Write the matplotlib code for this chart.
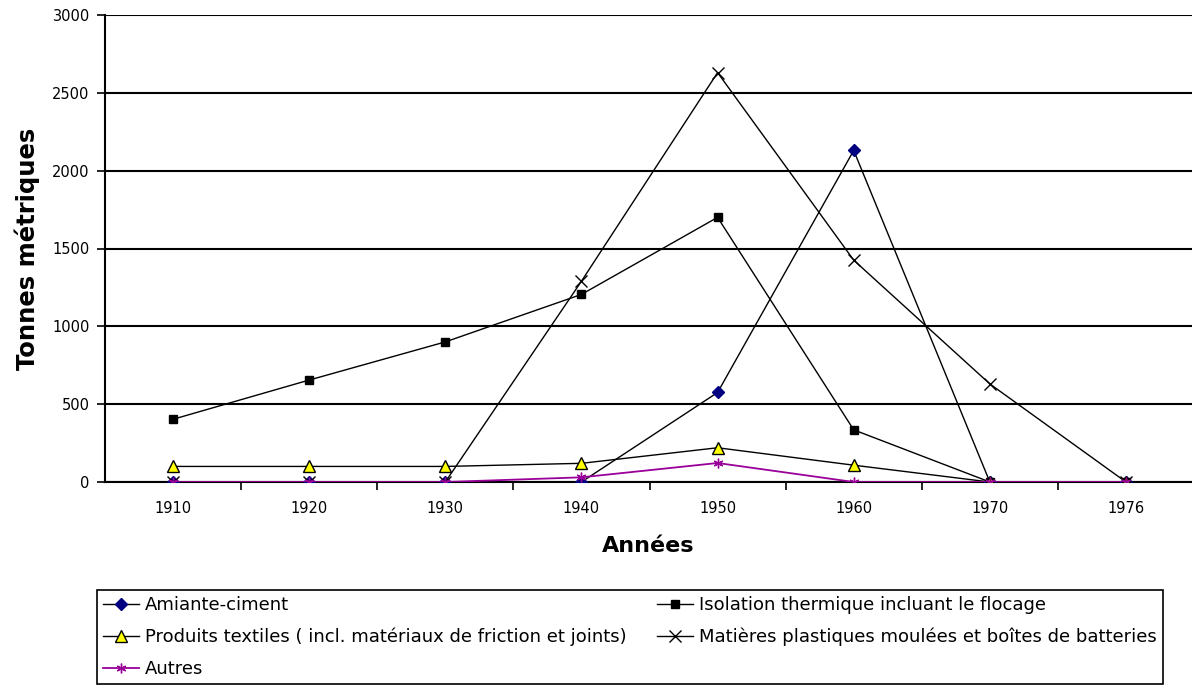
import matplotlib
matplotlib.use("Agg")
import matplotlib.pyplot as plt
import numpy as np

plt.rcParams['font.family'] = ['DejaVu Sans']

years = ["1910", "1920", "1930", "1940", "1950", "1960", "1970", "1976"]
amiante = [0, 0, 0, 0, 575, 2130, 0, 0]
isolation = [403, 655, 900, 1205, 1700, 335, 0, 0]
textiles = [100, 100, 100, 120, 220, 108, 0, 0]
plastiques = [0, 0, 0, 1290, 2630, 1425, 630, 0]
autres = [0, 0, 0, 30, 122, 0, 0, 0]

labels = ["Amiante-ciment",
          "Isolation thermique incluant le flocage",
          "Produits textiles ( incl. matériaux de friction et joints)",
          "Matières plastiques moulées et boîtes de batteries",
          "Autres"]

fig = plt.figure(figsize=(11.92, 6.86), dpi=100)
ax = fig.add_axes([105/1192, 1-482/686, 1-105/1192, (482-15)/686])
x = np.arange(len(years))

lw = 1.0
h_am, = ax.plot(x, amiante, color='black', lw=lw, marker='D', ms=6,
                mfc='#000080', mec='#000080', zorder=3)
h_is, = ax.plot(x, isolation, color='black', lw=lw, marker='s', ms=6,
                mfc='black', mec='black', zorder=3)
h_tx, = ax.plot(x, textiles, color='black', lw=lw, marker='^', ms=8,
                mfc='#FFFF00', mec='black', mew=1, zorder=3)
h_pl, = ax.plot(x, plastiques, color='black', lw=lw, marker='x', ms=8,
                mec='black', mew=1, zorder=3)
h_au, = ax.plot(x, autres, color='#990099', lw=1.3, marker=(6, 2, 0), ms=7,
                mec='#990099', mew=1, zorder=4)

ax.set_xlim(-0.5, 7.485)
ax.set_ylim(0, 3000)
ax.set_yticks([0, 500, 1000, 1500, 2000, 2500, 3000])
ax.yaxis.grid(True, color='black', lw=1.5)
ax.set_axisbelow(True)
ax.set_xticks(x)
ax.set_xticklabels(years)
ax.set_xticks(np.arange(0.5, 7.5, 1), minor=True)
ax.tick_params(axis='x', which='major', length=0, pad=14, labelsize=10.5)
ax.tick_params(axis='x', which='minor', length=6, width=1.2, direction='out')
ax.tick_params(axis='y', length=6, width=1.2, direction='out', labelsize=10.5, pad=5)
for s in ['top', 'right']:
    ax.spines[s].set_visible(False)
ax.spines['left'].set_linewidth(1.5)
ax.spines['bottom'].set_linewidth(1.5)

ax.set_ylabel("Tonnes métriques", fontsize=17.5, fontweight='bold', labelpad=9)
ax.set_xlabel("Années", fontsize=16, fontweight='bold', labelpad=14)

handles = [h_am, h_tx, h_au, h_is, h_pl]
labs = [labels[0], labels[2], labels[4], labels[1], labels[3]]
leg = fig.legend(handles, labs, ncol=2, loc='upper left',
                 bbox_to_anchor=(97/1192, 1-590/686),
                 fontsize=13, frameon=True, fancybox=False, framealpha=1,
                 edgecolor='black', handlelength=2.0, handletextpad=0.3,
                 borderpad=0.35, labelspacing=0.75, columnspacing=1.7,
                 borderaxespad=0)
leg.get_frame().set_linewidth(1.2)

fig.savefig("out.png", dpi=100)
